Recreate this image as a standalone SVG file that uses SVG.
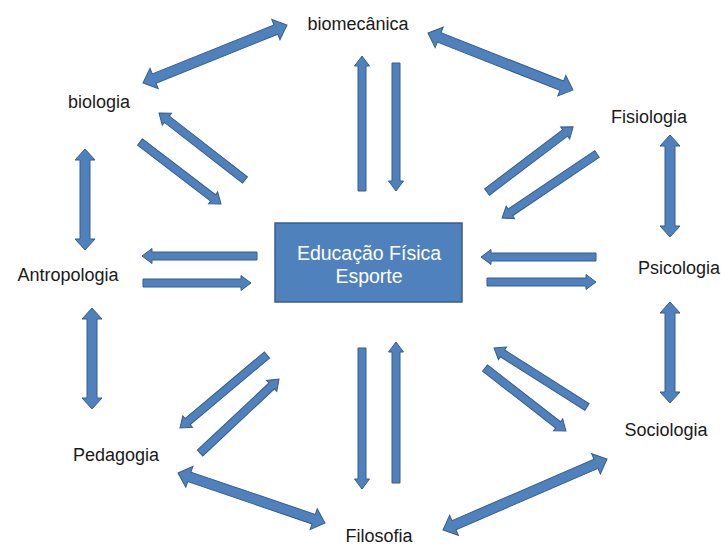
<svg xmlns="http://www.w3.org/2000/svg" width="721" height="547" viewBox="0 0 721 547">
<style>
.ar{fill:#4F81BD;stroke:#385D8A;stroke-width:1;stroke-linejoin:miter}
.lbl{font-family:"Liberation Sans",Arial,sans-serif;font-size:18px;fill:#1a1a1a;text-anchor:middle}
.ctr{font-family:"Liberation Sans",Arial,sans-serif;font-size:19.5px;fill:#ffffff;text-anchor:middle}
</style>
<rect width="721" height="547" fill="#ffffff"/>
<g id="center">
<rect x="275" y="223" width="187" height="79" fill="#4F81BD" stroke="#385D8A" stroke-width="1.5"/>
<text class="ctr" x="369" y="260">Educação Física</text>
<text class="ctr" x="369" y="283">Esporte</text>
</g>
<g id="biomecanica"><text class="lbl" x="358" y="30">biomecânica</text></g>
<g id="fisiologia"><text class="lbl" x="649" y="123">Fisiologia</text></g>
<g id="biologia"><text class="lbl" x="99" y="108">biologia</text></g>
<g id="antropologia"><text class="lbl" x="68" y="281">Antropologia</text></g>
<g id="psicologia"><text class="lbl" x="679" y="274">Psicologia</text></g>
<g id="pedagogia"><text class="lbl" x="116" y="461">Pedagogia</text></g>
<g id="sociologia"><text class="lbl" x="666" y="436">Sociologia</text></g>
<g id="filosofia"><text class="lbl" x="379" y="542">Filosofia</text></g>
<g id="connectors">
<path class="ar" transform="translate(362,191) rotate(-90)" d="M0,-4 H125 V-7.5 L135,0 L125,7.5 V4 H0 Z"/>
<path class="ar" transform="translate(396,63) rotate(90)" d="M0,-4 H118 V-7.5 L128,0 L118,7.5 V4 H0 Z"/>
<path class="ar" transform="translate(245,180) rotate(-142.1)" d="M0,-4 H99 V-7.5 L109,0 L99,7.5 V4 H0 Z"/>
<path class="ar" transform="translate(140,142) rotate(37.4)" d="M0,-4 H92 V-7.5 L102,0 L92,7.5 V4 H0 Z"/>
<path class="ar" transform="translate(487,192) rotate(-37.1)" d="M0,-4 H98 V-7.5 L108,0 L98,7.5 V4 H0 Z"/>
<path class="ar" transform="translate(597,154) rotate(146)" d="M0,-4 H104.5 V-7.5 L114.5,0 L104.5,7.5 V4 H0 Z"/>
<path class="ar" transform="translate(257,256) rotate(180)" d="M0,-4 H105 V-7.5 L115,0 L105,7.5 V4 H0 Z"/>
<path class="ar" transform="translate(143,283)" d="M0,-4 H98 V-7.5 L108,0 L98,7.5 V4 H0 Z"/>
<path class="ar" transform="translate(596,257) rotate(180)" d="M0,-4 H105 V-7.5 L115,0 L105,7.5 V4 H0 Z"/>
<path class="ar" transform="translate(487,282)" d="M0,-4 H99 V-7.5 L109,0 L99,7.5 V4 H0 Z"/>
<path class="ar" transform="translate(267,355) rotate(140)" d="M0,-4 H103.6 V-7.5 L113.6,0 L103.6,7.5 V4 H0 Z"/>
<path class="ar" transform="translate(200,453) rotate(-43.1)" d="M0,-4 H98.2 V-7.5 L108.2,0 L98.2,7.5 V4 H0 Z"/>
<path class="ar" transform="translate(362,348) rotate(90)" d="M0,-4 H131 V-7.5 L141,0 L131,7.5 V4 H0 Z"/>
<path class="ar" transform="translate(396,483) rotate(-90)" d="M0,-4 H131 V-7.5 L141,0 L131,7.5 V4 H0 Z"/>
<path class="ar" transform="translate(587,407) rotate(-147.6)" d="M0,-4 H100.1 V-7.5 L110.1,0 L100.1,7.5 V4 H0 Z"/>
<path class="ar" transform="translate(485,368) rotate(37.9)" d="M0,-4 H92.6 V-7.5 L102.6,0 L92.6,7.5 V4 H0 Z"/>
<path class="ar" transform="translate(143,83) rotate(-21.9)" d="M0,0 L12,-11 V-5 H143.2 V-11 L155.2,0 L143.2,11 V5 H12 V11 Z"/>
<path class="ar" transform="translate(428,33) rotate(21.5)" d="M0,0 L12,-11 V-5 H143.8 V-11 L155.8,0 L143.8,11 V5 H12 V11 Z"/>
<path class="ar" transform="translate(670,135) rotate(90)" d="M0,0 L11,-10 V-5 H91 V-10 L102,0 L91,10 V5 H11 V10 Z"/>
<path class="ar" transform="translate(670,302) rotate(90)" d="M0,0 L11,-10 V-5 H90 V-10 L101,0 L90,10 V5 H11 V10 Z"/>
<path class="ar" transform="translate(85,149) rotate(90)" d="M0,0 L11,-10 V-5 H90 V-10 L101,0 L90,10 V5 H11 V10 Z"/>
<path class="ar" transform="translate(92,308) rotate(90)" d="M0,0 L11,-10 V-5 H90 V-10 L101,0 L90,10 V5 H11 V10 Z"/>
<path class="ar" transform="translate(178,473) rotate(18.8)" d="M0,0 L12,-11 V-5 H143.3 V-11 L155.3,0 L143.3,11 V5 H12 V11 Z"/>
<path class="ar" transform="translate(443,530) rotate(-23.4)" d="M0,0 L12,-11 V-5 H166.7 V-11 L178.7,0 L166.7,11 V5 H12 V11 Z"/>
</g>
</svg>
